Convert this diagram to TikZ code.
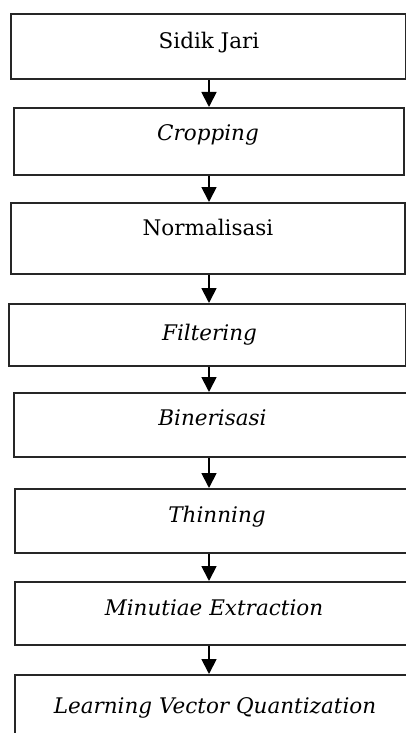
\documentclass[tikz,border=0pt]{standalone}
\usepackage{fontspec}
\setmainfont{DejaVu Serif}
\usetikzlibrary{arrows.meta}
\begin{document}
\begin{tikzpicture}[x=1pt,y=-1pt,
  box/.style={draw=black!85,line width=1.8pt,anchor=north west,inner sep=0pt,rectangle},
  lbl/.style={anchor=base,inner sep=0pt,font=\fontsize{21.5}{24}\selectfont},
  arr/.style={line width=1.8pt,-{Triangle[width=15pt,length=15pt]}}]
\useasboundingbox (0,0) rectangle (406,733);
\node[box,minimum width=395pt,minimum height=65pt] (b1) at (10,13) {};
\node[box,minimum width=390pt,minimum height=67pt] (b2) at (13,107) {};
\node[box,minimum width=394pt,minimum height=71pt] (b3) at (10,202) {};
\node[box,minimum width=397pt,minimum height=62pt] (b4) at (8,303) {};
\node[box,minimum width=407pt,minimum height=64pt] (b5) at (13,392) {};
\node[box,minimum width=406pt,minimum height=64pt] (b6) at (14,488) {};
\node[box,minimum width=406pt,minimum height=63pt] (b7) at (14,581) {};
\node[box,minimum width=406pt,minimum height=75pt] (b8) at (14,674) {};
\node[lbl] (t1) at (209,49) {Sidik Jari};
\node[lbl] (t2) at (208,140) {\itshape Cropping};
\node[lbl] (t3) at (208,235) {Normalisasi};
\node[lbl] (t4) at (209.5,340) {\itshape Filtering};
\node[lbl] (t5) at (212.5,425) {\itshape Binerisasi};
\node[lbl] (t6) at (217,522) {\itshape Thinning};
\node[lbl] (t7) at (214,615) {\itshape Minutiae Extraction};
\node[lbl] (t8) at (215,713) {\itshape Learning Vector Quantization};
\coordinate (ax) at (209,0);
\draw[arr] (b1.south -| ax) -- (b2.north -| ax);
\draw[arr] (b2.south -| ax) -- (b3.north -| ax);
\draw[arr] (b3.south -| ax) -- (b4.north -| ax);
\draw[arr] (b4.south -| ax) -- (b5.north -| ax);
\draw[arr] (b5.south -| ax) -- (b6.north -| ax);
\draw[arr] (b6.south -| ax) -- (b7.north -| ax);
\draw[arr] (b7.south -| ax) -- (b8.north -| ax);
\end{tikzpicture}
\end{document}
